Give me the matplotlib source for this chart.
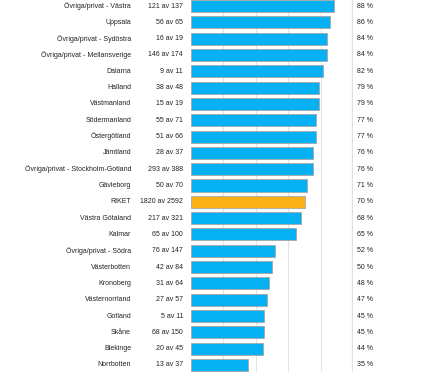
import matplotlib

matplotlib.use("Agg")
import matplotlib.pyplot as plt

plt.rcParams["font.family"] = ["Liberation Sans", "DejaVu Sans"]

categories = [
    "Övriga/privat - Västra", "Uppsala", "Övriga/privat - Sydöstra",
    "Övriga/privat - Mellansverige", "Dalarna", "Halland", "Västmanland",
    "Södermanland", "Östergötland", "Jämtland",
    "Övriga/privat - Stockholm-Gotland", "Gävleborg", "RIKET",
    "Västra Götaland", "Kalmar", "Övriga/privat - Södra", "Västerbotten",
    "Kronoberg", "Västernorrland", "Gotland", "Skåne", "Blekinge", "Norrbotten",
]
counts = [
    "121 av 137", "56 av 65", "16 av 19", "146 av 174", "9 av 11", "38 av 48",
    "15 av 19", "55 av 71", "51 av 66", "28 av 37", "293 av 388", "50 av 70",
    "1820 av 2592", "217 av 321", "65 av 100", "76 av 147", "42 av 84",
    "31 av 64", "27 av 57", "5 av 11", "68 av 150", "20 av 45", "13 av 37",
]
percent = [88, 86, 84, 84, 82, 79, 79, 77, 77, 76, 76, 71, 70, 68, 65, 52,
           50, 48, 47, 45, 45, 44, 35]
# bar lengths (slightly finer than the rounded labels)
bar_values = [88.2, 86.1, 84.2, 83.8, 81.5, 79.1, 78.8, 77.4, 77.2, 75.6, 75.5,
              71.3, 70.1, 67.6, 64.9, 51.7, 49.9, 48.4, 47.1, 45.3, 45.3, 44.4, 35.0]
highlight = "RIKET"

fig = plt.figure(figsize=(4.46, 3.72), dpi=100)
ax = fig.add_axes([191 / 446, 0, 162 / 446, 1])

colors = ["#fdb119" if c == highlight else "#06b1f3" for c in categories]
ypos = list(range(len(categories)))
ax.barh(ypos, bar_values, height=0.74, color=colors, edgecolor="#a8a8a8",
        linewidth=0.6, zorder=2)

for x in [20, 40, 60, 80]:
    ax.axvline(x, color="#e4e4e4", linewidth=0.8, zorder=1)
ax.axvline(100, color="#e0e0e0", linewidth=1.6, zorder=1)

ax.set_xlim(0, 100)
ax.set_ylim(22.43, -0.368)
ax.axis("off")

trans = ax.get_yaxis_transform()
for i, (cat, cnt, pct) in enumerate(zip(categories, counts, percent)):
    ax.text(-0.370, i, cat, transform=trans, ha="right", va="center",
            fontsize=5, color="#222222")
    ax.text(-0.049, i, cnt, transform=trans, ha="right", va="center",
            fontsize=5, color="#222222")
    ax.text(1.025, i, f"{pct} %", transform=trans, ha="left", va="center",
            fontsize=5, color="#222222")

fig.savefig("out.png", dpi=100)
